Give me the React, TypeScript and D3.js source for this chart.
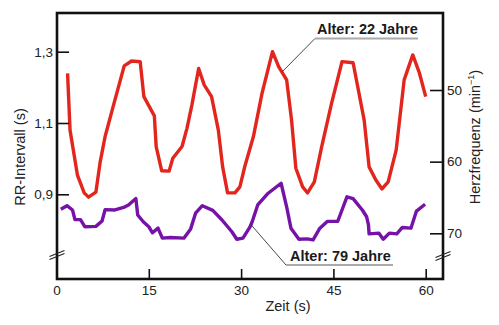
import React, { useEffect, useRef } from "react";
import * as d3 from "d3";

const redTime = [1.8, 2.2, 3.4, 4.5, 5.2, 6.4, 7.1, 7.9, 9.2, 11.0, 12.2, 13.6, 14.2, 15.9, 16.2, 17.1, 18.3, 18.9, 20.4, 21.2, 22.0, 23.1, 24.0, 25.2, 26.3, 27.0, 27.8, 29.0, 29.8, 30.6, 32.0, 33.4, 35.1, 36.1, 37.4, 38.2, 38.9, 40.0, 40.8, 41.9, 43.1, 44.7, 46.4, 48.2, 50.0, 50.8, 51.9, 52.9, 53.9, 55.2, 56.5, 57.9, 59.0, 60.0];
const redRR = [1.239, 1.08, 0.954, 0.904, 0.892, 0.906, 0.991, 1.062, 1.146, 1.26, 1.274, 1.272, 1.174, 1.12, 1.034, 0.966, 0.965, 1.001, 1.034, 1.085, 1.15, 1.253, 1.207, 1.174, 1.08, 0.977, 0.904, 0.904, 0.921, 0.978, 1.062, 1.183, 1.3, 1.258, 1.221, 1.108, 0.973, 0.921, 0.904, 0.935, 1.034, 1.155, 1.272, 1.269, 1.108, 0.977, 0.94, 0.915, 0.935, 1.024, 1.221, 1.291, 1.239, 1.174];

const purpleTime = [0.7, 1.7, 2.6, 3.0, 3.9, 4.6, 6.4, 7.4, 7.9, 9.5, 10.9, 11.7, 12.9, 13.2, 14.1, 15.0, 15.6, 16.5, 17.2, 18.5, 20.7, 21.8, 22.6, 23.7, 25.4, 26.9, 28.5, 29.3, 30.3, 31.4, 31.8, 32.7, 34.4, 36.5, 37.4, 38.1, 39.4, 40.7, 41.7, 42.8, 44.0, 45.7, 46.4, 47.2, 48.2, 49.7, 50.4, 50.7, 50.8, 52.4, 53.1, 54.1, 55.3, 56.2, 57.6, 58.5, 59.9];
const purpleRR = [0.858, 0.868, 0.856, 0.829, 0.829, 0.809, 0.81, 0.825, 0.857, 0.856, 0.863, 0.87, 0.888, 0.842, 0.823, 0.809, 0.792, 0.805, 0.777, 0.779, 0.777, 0.803, 0.847, 0.868, 0.855, 0.828, 0.795, 0.774, 0.777, 0.807, 0.823, 0.87, 0.903, 0.931, 0.865, 0.805, 0.774, 0.775, 0.772, 0.805, 0.824, 0.824, 0.856, 0.893, 0.888, 0.856, 0.837, 0.814, 0.789, 0.791, 0.774, 0.791, 0.789, 0.807, 0.805, 0.853, 0.872];

const xTicks = [0, 15, 30, 45, 60];
const rrTicks = [0.9, 1.1, 1.3];
const hrTicks = [50, 60, 70];

const labelYoung = "Alter: 22 Jahre";
const labelOld = "Alter: 79 Jahre";
// annotation anchors in data units [time, RR]
const anchorYoung = [36.7, 1.244];
const anchorOld = [31.6, 0.815];

const FONT = "'Liberation Sans', Arial, Helvetica, sans-serif";

export default function App() {
  const ref = useRef<SVGSVGElement>(null);

  useEffect(() => {
    const svg = d3.select(ref.current);
    svg.selectAll("*").remove();

    const left = 57, right = 443, top = 13, bottom = 279;
    const x = d3.scaleLinear().domain([0, 60]).range([56.5, 425.7]);
    const y = d3.scaleLinear().domain([0.9, 1.3]).range([194.3, 51.7]);
    const yR = d3.scaleLinear().domain([50, 70]).range([90, 233.3]);

    const fmtComma = (v: number) => d3.format(".1f")(v).replace(".", ",");

    // lines
    const line = d3
      .line<[number, number]>()
      .x((d) => x(d[0]))
      .y((d) => y(d[1]));

    const redData = redTime.map((t, i) => [t, redRR[i]] as [number, number]);
    const purpleData = purpleTime.map((t, i) => [t, purpleRR[i]] as [number, number]);

    svg
      .append("path")
      .attr("d", line(purpleData))
      .attr("fill", "none")
      .attr("stroke", "#7612a8")
      .attr("stroke-width", 3.4)
      .attr("stroke-linejoin", "round");

    svg
      .append("path")
      .attr("d", line(redData))
      .attr("fill", "none")
      .attr("stroke", "#e3261d")
      .attr("stroke-width", 3.4)
      .attr("stroke-linejoin", "round");

    // frame
    svg
      .append("rect")
      .attr("x", left)
      .attr("y", top)
      .attr("width", right - left)
      .attr("height", bottom - top)
      .attr("fill", "none")
      .attr("stroke", "#111")
      .attr("stroke-width", 2.6);

    const styleAxis = (g: any) => {
      g.select(".domain").remove();
      g.selectAll(".tick line").attr("stroke", "#111").attr("stroke-width", 1.6);
      g.selectAll(".tick text")
        .attr("fill", "#222")
        .style("font-family", FONT)
        .style("font-size", "13.5px");
    };

    svg
      .append("g")
      .attr("transform", `translate(${left},0)`)
      .call(
        d3.axisLeft(y).tickValues(rrTicks).tickSize(-12).tickPadding(4).tickFormat((d: any) => fmtComma(d))
      )
      .call(styleAxis);

    svg
      .append("g")
      .attr("transform", `translate(${right},0)`)
      .call(d3.axisRight(yR).tickValues(hrTicks).tickSize(-13).tickPadding(4))
      .call(styleAxis);

    svg
      .append("g")
      .attr("transform", `translate(0,${bottom})`)
      .call(d3.axisBottom(x).tickValues(xTicks).tickSize(-10).tickPadding(6))
      .call(styleAxis);

    // axis breaks
    const breaks = [
      [left, 255],
      [right, 256],
    ];
    breaks.forEach(([bx, by]) => {
      [-1.6, 1.6].forEach((off) => {
        svg
          .append("line")
          .attr("x1", bx - 7.5)
          .attr("y1", by + off + 3)
          .attr("x2", bx + 7.5)
          .attr("y2", by + off - 3)
          .attr("stroke", "#222")
          .attr("stroke-width", 1.1);
      });
    });

    // axis titles
    svg
      .append("text")
      .attr("transform", `translate(25,157) rotate(-90)`)
      .attr("text-anchor", "middle")
      .style("font-family", FONT)
      .style("font-size", "14.5px")
      .attr("fill", "#222")
      .text("RR-Intervall (s)");

    const rt = svg
      .append("text")
      .attr("transform", `translate(480,137) rotate(-90)`)
      .attr("text-anchor", "middle")
      .style("font-family", FONT)
      .style("font-size", "14.5px")
      .attr("fill", "#222");
    rt.append("tspan").text("Herzfrequenz (min");
    rt.append("tspan").attr("dy", -6).style("font-size", "9px").text("−1");
    rt.append("tspan").attr("dy", 6).text(")");

    svg
      .append("text")
      .attr("x", 288)
      .attr("y", 311)
      .attr("text-anchor", "middle")
      .style("font-family", FONT)
      .style("font-size", "14.5px")
      .attr("fill", "#222")
      .text("Zeit (s)");

    // annotations
    const annots = [
      { text: labelYoung, tx: 317, ty: 34, ux1: 315, ux2: 418, uy: 38.5, anchor: anchorYoung },
      { text: labelOld, tx: 290, ty: 260.5, ux1: 286, ux2: 393, uy: 265, anchor: anchorOld },
    ];
    annots.forEach((a) => {
      svg
        .append("line")
        .attr("x1", a.ux1)
        .attr("y1", a.uy)
        .attr("x2", x(a.anchor[0]))
        .attr("y2", y(a.anchor[1]))
        .attr("stroke", "#333")
        .attr("stroke-width", 0.9);
      svg
        .append("line")
        .attr("x1", a.ux1)
        .attr("y1", a.uy)
        .attr("x2", a.ux2)
        .attr("y2", a.uy)
        .attr("stroke", "#aaaaaa")
        .attr("stroke-width", 2);
      svg
        .append("text")
        .attr("x", a.tx)
        .attr("y", a.ty)
        .style("font-family", FONT)
        .style("font-size", "14.5px")
        .style("font-weight", "bold")
        .attr("fill", "#1a1a1a")
        .text(a.text);
    });
  }, []);

  return (
    <svg
      ref={ref}
      width={499}
      height={325}
      style={{ position: "absolute", left: 0, top: 0, background: "#fff" }}
    />
  );
}
